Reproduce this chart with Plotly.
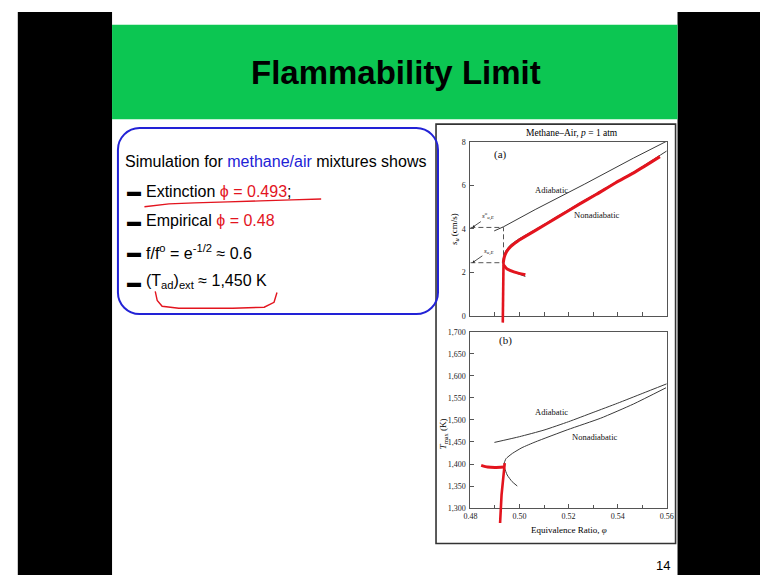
import plotly.graph_objects as go

# ---------------- data ----------------
# panel (a): laminar flame speed vs equivalence ratio
phi_ad_a = [0.4897, 0.4935, 0.5064, 0.5264, 0.5464, 0.5600]
su_ad = [3.91, 4.10, 4.89, 6.05, 7.25, 8.03]

phi_na_a = [0.5024, 0.4995, 0.4965, 0.4942, 0.4932, 0.4936, 0.4945, 0.4962,
            0.4992, 0.5072, 0.5152, 0.5244, 0.5312, 0.5392, 0.5472, 0.5600]
su_na = [1.82, 1.94, 2.08, 2.26, 2.45, 2.75, 3.00, 3.25,
         3.50, 4.02, 4.56, 5.18, 5.62, 6.15, 6.66, 7.58]

phi_E = 0.4935
su_E0 = 4.07     # adiabatic extinction flame speed
su_E = 2.45      # nonadiabatic extinction flame speed

# hand-drawn red strokes on panel (a)
red_a_up_phi = [0.4934, 0.4938, 0.4948, 0.4965, 0.4992, 0.5072, 0.5152, 0.5244, 0.5312, 0.5392, 0.5472, 0.5572]
red_a_up_su = [2.45, 2.70, 2.97, 3.20, 3.44, 3.98, 4.52, 5.14, 5.58, 6.12, 6.62, 7.32]
red_a_lo_phi = [0.4935, 0.4950, 0.4980, 0.5024]
red_a_lo_su = [2.35, 2.16, 2.02, 1.90]
red_a_v_phi = [0.4935, 0.4934, 0.4932]
red_a_v_su = [2.45, 1.00, -0.30]

# panel (b): maximum temperature vs equivalence ratio
phi_ad_b = [0.4898, 0.50, 0.51, 0.52, 0.53, 0.54, 0.55, 0.56]
T_ad = [1449, 1462, 1477, 1496, 1517, 1538, 1560, 1582]

phi_na_b = [0.4991, 0.4970, 0.4950, 0.4940, 0.4937, 0.4945, 0.4971, 0.5010,
            0.5064, 0.5197, 0.5331, 0.5464, 0.5597]
T_na = [1350, 1360, 1375, 1390, 1400, 1412, 1424, 1437,
        1450, 1478, 1504, 1536, 1573]

red_b_h_phi = [0.4844, 0.4870, 0.4900, 0.4937]
red_b_h_T = [1397, 1393, 1392, 1393]
red_b_v_phi = [0.4940, 0.4933, 0.4927, 0.4921]
red_b_v_T = [1402, 1370, 1330, 1266]

x_ticks_b = [0.48, 0.50, 0.52, 0.54, 0.56]
y_ticks_a = [0, 2, 4, 6, 8]
y_ticks_b = [1300, 1350, 1400, 1450, 1500, 1550, 1600, 1650, 1700]

# ---------------- geometry ----------------
W, H = 767, 580
def fx(p): return p / W
def fy(p): return 1 - p / H

XL, XR = 472, 672
A_TOP, A_BOT = 140, 317
B_TOP, B_BOT = 333, 512
EXT_A, EXT_B = 10, 20

XR_RANGE = [0.48, 0.56]
YA_RANGE = [0, 8]
YB_RANGE = [1300, 1700]
ya_ext = YA_RANGE[0] - EXT_A * (YA_RANGE[1] - YA_RANGE[0]) / (A_BOT - A_TOP)
yb_ext = YB_RANGE[0] - EXT_B * (YB_RANGE[1] - YB_RANGE[0]) / (B_BOT - B_TOP)

SERIF = "Liberation Serif, Times New Roman, serif"
SANS = "Liberation Sans, Arial, sans-serif"
RED = "#E3141E"
BLUE = "#2222D6"
LINE = "#3a3a3a"

fig = go.Figure()

def line(x, y, xa, ya, color=LINE, width=1, dash=None, shape="linear", sm=0.5):
    fig.add_trace(go.Scatter(x=x, y=y, xaxis=xa, yaxis=ya, mode="lines",
                             line=dict(color=color, width=width, dash=dash, shape=shape,
                                       smoothing=sm),
                             showlegend=False, hoverinfo="skip"))

# panel a
line(phi_ad_a, su_ad, "x", "y")
line(phi_na_a, su_na, "x", "y", shape="spline")
line([XR_RANGE[0], phi_E, phi_E], [su_E0, su_E0, su_E], "x", "y", color="#555", dash="5px,3px")
line([XR_RANGE[0], phi_E], [su_E, su_E], "x", "y", color="#555", dash="5px,3px")
# panel b
line(phi_ad_b, T_ad, "x2", "y2", shape="spline")
line(phi_na_b, T_na, "x2", "y2", shape="spline")
# red strokes (extended axes so they may overshoot the frame)
line(red_a_up_phi, red_a_up_su, "x3", "y3", color=RED, width=3, shape="spline", sm=0.7)
line(red_a_lo_phi, red_a_lo_su, "x3", "y3", color=RED, width=3, shape="spline")
line(red_a_v_phi, red_a_v_su, "x3", "y3", color=RED, width=2.6)
line(red_b_h_phi, red_b_h_T, "x4", "y4", color=RED, width=3, shape="spline")
line(red_b_v_phi, red_b_v_T, "x4", "y4", color=RED, width=2.6)

tickfont = dict(family=SERIF, size=8, color="#222")
common_x = dict(domain=[fx(XL), fx(XR)], range=XR_RANGE, showgrid=False, zeroline=False,
                showline=True, mirror=True, linecolor="#555", linewidth=1,
                ticks="inside", ticklen=4, tickcolor="#555", tickfont=tickfont)
common_y = dict(showgrid=False, zeroline=False, showline=True, mirror=True,
                linecolor="#555", linewidth=1, ticks="inside", ticklen=4,
                tickcolor="#555", tickfont=tickfont)

fig.update_layout(
    width=W, height=H, margin=dict(l=0, r=0, t=0, b=0),
    paper_bgcolor="white", plot_bgcolor="rgba(0,0,0,0)",
    xaxis=dict(**common_x, anchor="y", tickvals=[0.48 + 0.01 * i for i in range(9)],
               showticklabels=False),
    yaxis=dict(**common_y, domain=[fy(A_BOT), fy(A_TOP)], range=YA_RANGE, anchor="x",
               tickvals=y_ticks_a, ticklabelstandoff=2),
    xaxis2=dict(**common_x, anchor="y2", tickvals=x_ticks_b, tickformat=".2f",
                minor=dict(dtick=0.01, ticks="inside", ticklen=3, tickcolor="#555")),
    yaxis2=dict(**common_y, domain=[fy(B_BOT), fy(B_TOP)], range=YB_RANGE, anchor="x2",
                tickvals=y_ticks_b, tickformat=",", ticklabelstandoff=2),
    xaxis3=dict(domain=[fx(XL), fx(XR)], range=XR_RANGE, visible=False, anchor="y3"),
    yaxis3=dict(domain=[fy(A_BOT + EXT_A), fy(A_TOP)], range=[ya_ext, YA_RANGE[1]],
                visible=False, anchor="x3"),
    xaxis4=dict(domain=[fx(XL), fx(XR)], range=XR_RANGE, visible=False, anchor="y4"),
    yaxis4=dict(domain=[fy(B_BOT + EXT_B), fy(B_TOP)], range=[yb_ext, YB_RANGE[1]],
                visible=False, anchor="x4"),
)

shapes = []
def rect(x0, y0, x1, y1, fill=None, lc=None, lw=0, layer="below"):
    shapes.append(dict(type="rect", xref="paper", yref="paper",
                       x0=fx(x0), x1=fx(x1), y0=fy(y1), y1=fy(y0),
                       fillcolor=fill or "rgba(0,0,0,0)",
                       line=dict(color=lc or "rgba(0,0,0,0)", width=lw), layer=layer))

rect(11, 8, 107, 580, fill="black")
rect(683, 8, 767, 580, fill="black")
rect(107, 21, 683, 117, fill="#0CC652")
rect(437, 122, 681, 548, lc="#333", lw=1.6)

def path(pts, color, width):
    p = "M {:.5f},{:.5f}".format(fx(pts[0][0]), fy(pts[0][1]))
    for q in pts[1:]:
        p += " L {:.5f},{:.5f}".format(fx(q[0]), fy(q[1]))
    shapes.append(dict(type="path", xref="paper", yref="paper", path=p,
                       line=dict(color=color, width=width), layer="above"))

# rounded blue box
bx0, by0, bx1, by1, r = 113, 126, 439, 315, 22
def rr():
    k = 0.45
    p = "M {:.5f},{:.5f}".format(fx(bx0 + r), fy(by0))
    p += " L {:.5f},{:.5f}".format(fx(bx1 - r), fy(by0))
    p += " C {:.5f},{:.5f} {:.5f},{:.5f} {:.5f},{:.5f}".format(
        fx(bx1 - r * k), fy(by0), fx(bx1), fy(by0 + r * k), fx(bx1), fy(by0 + r))
    p += " L {:.5f},{:.5f}".format(fx(bx1), fy(by1 - r))
    p += " C {:.5f},{:.5f} {:.5f},{:.5f} {:.5f},{:.5f}".format(
        fx(bx1), fy(by1 - r * k), fx(bx1 - r * k), fy(by1), fx(bx1 - r), fy(by1))
    p += " L {:.5f},{:.5f}".format(fx(bx0 + r), fy(by1))
    p += " C {:.5f},{:.5f} {:.5f},{:.5f} {:.5f},{:.5f}".format(
        fx(bx0 + r * k), fy(by1), fx(bx0), fy(by1 - r * k), fx(bx0), fy(by1 - r))
    p += " L {:.5f},{:.5f}".format(fx(bx0), fy(by0 + r))
    p += " C {:.5f},{:.5f} {:.5f},{:.5f} {:.5f},{:.5f} Z".format(
        fx(bx0), fy(by0 + r * k), fx(bx0 + r * k), fy(by0), fx(bx0 + r), fy(by0))
    shapes.append(dict(type="path", xref="paper", yref="paper", path=p,
                       line=dict(color=BLUE, width=2), layer="below"))
rr()

# hand-drawn red underlines
path([(140, 206), (165, 203), (191, 202), (225, 201), (258, 200), (290, 199), (320, 198)], RED, 1.4)
path([(151, 292), (153, 301), (158, 307), (175, 309), (230, 309), (262, 308), (272, 303), (275, 293)], RED, 1.4)

fig.update_layout(shapes=shapes)

ann = []
def text(x, y, s, size, color="black", family=SANS, xanchor="left", angle=0):
    ann.append(dict(x=fx(x), y=fy(y), xref="paper", yref="paper",
                    text=s, showarrow=False, xanchor=xanchor, yanchor="middle",
                    textangle=angle, font=dict(family=family, size=size, color=color)))

text(396, 70, "<b>Flammability Limit</b>", 33, xanchor="center")
text(118, 160, "Simulation for <span style='color:%s'>methane/air</span> mixtures shows" % BLUE, 16)
for yy in (190, 220, 252, 282):
    text(120, yy, "<b>▬</b>", 14)
text(140, 190, "Extinction <span style='color:%s'>ϕ = 0.493</span>;" % RED, 16)
text(140, 220, "Empirical <span style='color:%s'>ϕ = 0.48</span>" % RED, 16)
text(140, 252, "f/f<sup>o</sup> = e<sup>-1/2</sup> ≈ 0.6", 16)
text(140, 282, "(T<sub>ad</sub>)<sub>ext</sub> ≈ 1,450 K", 16)
text(677, 570, "14", 13, xanchor="right")

# chart text
text(575, 131, "Methane–Air, <i>p</i> = 1 atm", 9.5, family=SERIF, xanchor="center")
text(456, 229, "<i>s</i><sub><i>u</i></sub> (cm/s)", 9, family=SERIF, xanchor="center", angle=-90)
text(444, 436, "<i>T</i><sub>max</sub> (K)", 9, family=SERIF, xanchor="center", angle=-90)
text(572, 534, "Equivalence Ratio, <i>φ</i>", 9, family=SERIF, xanchor="center")

def dtext(x, y, s, size, xr, yr):
    ann.append(dict(x=x, y=y, xref=xr, yref=yr, text=s, showarrow=False,
                    xanchor="center", yanchor="middle",
                    font=dict(family=SERIF, size=size, color="#111")))

dtext(0.4924, 7.41, "(a)", 11, "x", "y")
dtext(0.5132, 5.80, "Adiabatic", 8.5, "x", "y")
dtext(0.5316, 4.66, "Nonadiabatic", 8.5, "x", "y")
dtext(0.4944, 1680, "(b)", 11, "x2", "y2")
dtext(0.5132, 1517, "Adiabatic", 8.5, "x2", "y2")
dtext(0.5307, 1461, "Nonadiabatic", 8.5, "x2", "y2")

for lab, yv in (("<i>s</i><sup>o</sup><sub><i>u,E</i></sub>", su_E0), ("<i>s</i><sub><i>u,E</i></sub>", su_E)):
    ann.append(dict(x=0.4808, y=yv, xref="x", yref="y", text=lab, showarrow=True,
                    ax=16, ay=-11, arrowhead=2, arrowsize=0.6, arrowwidth=0.8,
                    arrowcolor="#222", font=dict(family=SERIF, size=7, color="#111")))

fig.update_layout(annotations=ann)
fig.write_html("out.html", config={"displayModeBar": False},
               post_script="document.body.style.margin='0';document.body.style.overflow='hidden';")
